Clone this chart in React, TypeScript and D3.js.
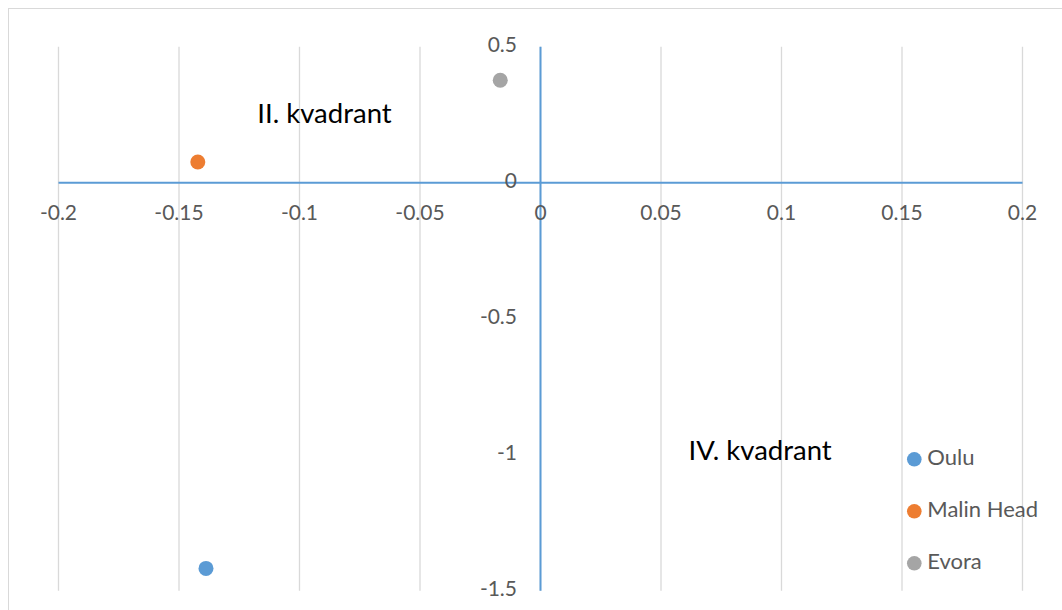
import React from "react";
import * as d3 from "d3";

const seriesNames = ["Oulu", "Malin Head", "Evora"];
const xValues = [-0.1388, -0.1422, -0.0167];
const yValues = [-1.418, 0.076, 0.3765];
const seriesColors = ["#5b9bd5", "#ed7d31", "#a5a5a5"];
const xTicks = [-0.2, -0.15, -0.1, -0.05, 0, 0.05, 0.1, 0.15, 0.2];
const xTickLabels = ["-0.2", "-0.15", "-0.1", "-0.05", "0", "0.05", "0.1", "0.15", "0.2"];
const yTicks = [0.5, 0, -0.5, -1, -1.5];
const yTickLabels = ["0.5", "0", "-0.5", "-1", "-1.5"];
const quadrantLabels = [
  { text: "II. kvadrant", x: -0.1175, y: 0.2195 },
  { text: "IV. kvadrant", x: 0.0614, y: -1.0195 },
];

const FONT = "Lato, 'Open Sans', sans-serif";

export default function App() {
  const W = 1062;
  const H = 610;
  const x = d3.scaleLinear().domain([-0.2, 0.2]).range([58.5, 1022.5]);
  const y = d3.scaleLinear().domain([-1.5, 0.5]).range([590.7, 46.7]);

  return (
    <svg
      width={W}
      height={H}
      style={{ position: "absolute", left: 0, top: 0, background: "#fff" }}
    >
      <rect x={0} y={0} width={W} height={H} fill="#fff" />
      <rect x={8.5} y={8.5} width={1200} height={800} fill="none" stroke="#d9d9d9" strokeWidth={1} />
      {/* vertical gridlines */}
      {xTicks.map((t, i) => (
        <line
          key={"g" + i}
          x1={x(t)}
          x2={x(t)}
          y1={y(0.5)}
          y2={y(-1.5)}
          stroke="#d9d9d9"
          strokeWidth={1.3}
        />
      ))}
      {/* axes */}
      <line x1={x(-0.2)} x2={x(0.2)} y1={y(0)} y2={y(0)} stroke="#5b9bd5" strokeWidth={2} />
      <line x1={x(0)} x2={x(0)} y1={y(0.5)} y2={y(-1.5)} stroke="#5b9bd5" strokeWidth={2} />
      {/* x tick labels */}
      {xTicks.map((t, i) => (
        <text
          key={"xl" + i}
          x={x(t)}
          y={y(0) + 32}
          fill="#595959"
          fontFamily={FONT}
          fontSize={21}
          textAnchor="middle"
          dominantBaseline="middle"
        >
          {xTickLabels[i]}
        </text>
      ))}
      {/* y tick labels */}
      {yTicks.map((t, i) => (
        <text
          key={"yl" + i}
          x={517}
          y={y(t)}
          fill="#595959"
          fontFamily={FONT}
          fontSize={21}
          textAnchor="end"
          dominantBaseline="middle"
        >
          {yTickLabels[i]}
        </text>
      ))}
      {/* quadrant labels */}
      {quadrantLabels.map((q, i) => (
        <text
          key={"q" + i}
          x={x(q.x)}
          y={y(q.y)}
          fill="#000"
          fontFamily={FONT}
          fontSize={27.5}
        >
          {q.text}
        </text>
      ))}
      {/* points */}
      {seriesNames.map((s, i) => (
        <circle key={"p" + i} cx={x(xValues[i])} cy={y(yValues[i])} r={7.5} fill={seriesColors[i]} />
      ))}
      {/* legend */}
      {seriesNames.map((s, i) => (
        <g key={"lg" + i} transform={`translate(914.3, ${459.3 + i * 52})`}>
          <circle cx={0} cy={0} r={7.3} fill={seriesColors[i]} />
          <text
            x={13}
            y={0}
            fill="#595959"
            fontFamily={FONT}
            fontSize={22}
            dominantBaseline="middle"
          >
            {s}
          </text>
        </g>
      ))}
    </svg>
  );
}
